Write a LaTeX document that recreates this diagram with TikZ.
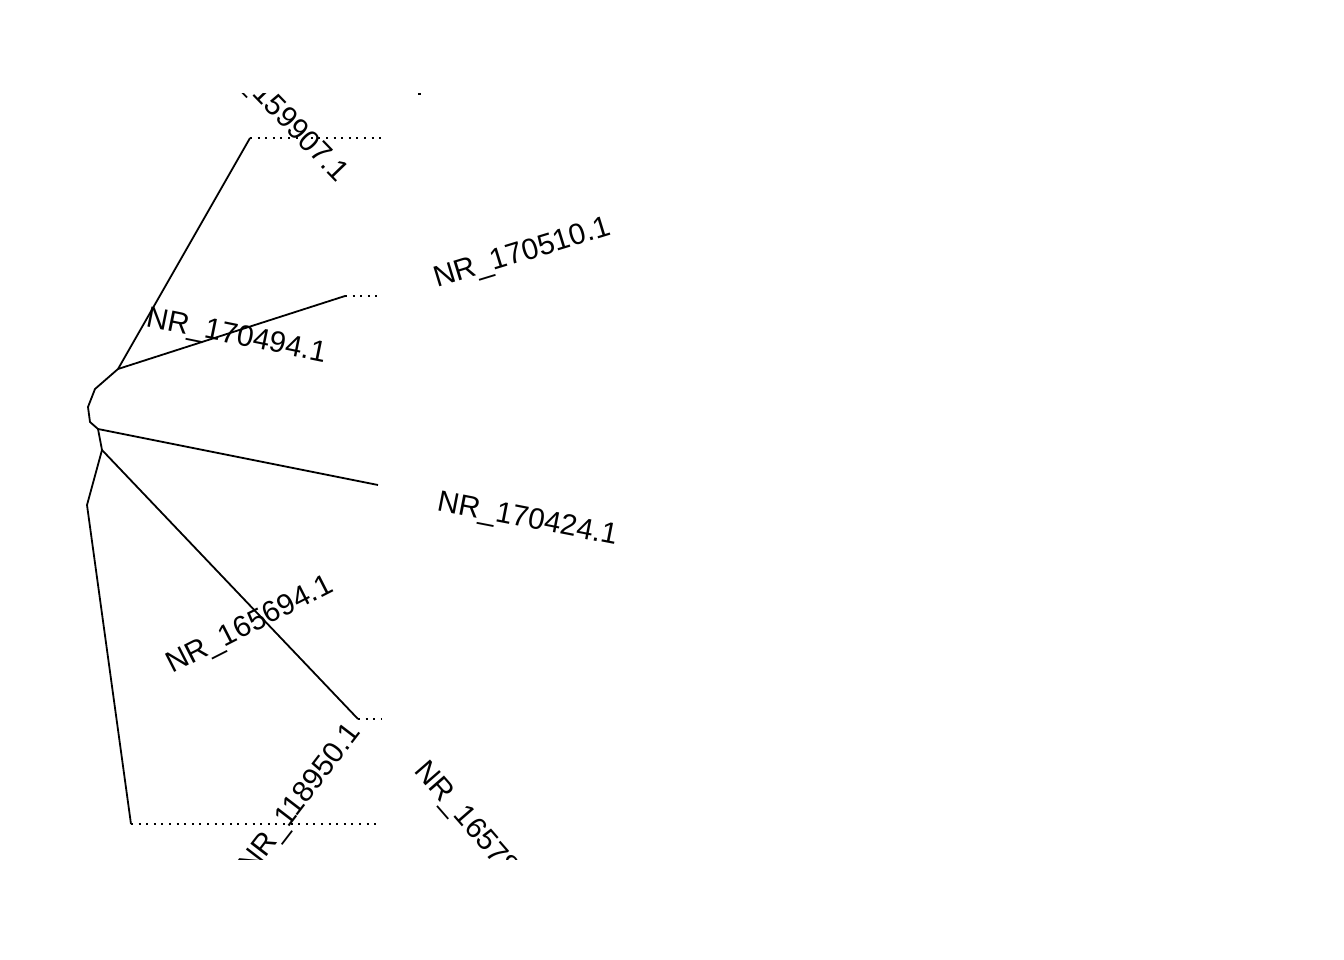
\documentclass[tikz,border=0pt]{standalone}
\usepackage{fontspec}
\setmainfont{Liberation Sans}
\begin{document}
\begin{tikzpicture}[x=1pt,y=-1pt,
  edge/.style={line width=1.8pt, line cap=butt, line join=round},
  dotline/.style={line width=2pt, dash pattern=on 2pt off 5.6pt},
  tiplabel/.style={anchor=base west, inner sep=0pt, font=\fontsize{29.6}{34}\selectfont}]
\useasboundingbox (0,0) rectangle (1344,960);
% tree coordinates
\coordinate (a) at (118,369);
\coordinate (b) at (95,389);
\coordinate (c) at (88,407);
\coordinate (d) at (90,422);
\coordinate (e) at (98,429);
\coordinate (f) at (102,450);
\coordinate (g) at (87,505);
\coordinate (h) at (131,824);
\coordinate (t1) at (250,138);
\coordinate (t1e) at (381,138);
\coordinate (t2) at (345,296);
\coordinate (t2e) at (381,296);
\coordinate (t3) at (378,485);
\coordinate (t4) at (358,719);
\coordinate (t4e) at (381,719);
\coordinate (t5e) at (381,824);
% edges
\draw[edge] (a) -- (b) -- (c) -- (d) -- (e) -- (f) -- (g) -- (h);
\draw[edge] (a) -- (t1);
\draw[edge] (a) -- (t2);
\draw[edge] (e) -- (t3);
\draw[edge] (f) -- (t4);
% dotted extensions
\draw[dotline] (t1) -- (t1e);
\draw[dotline] (t2) -- (t2e);
\draw[dotline] (t4) -- (t4e);
\draw[dotline] (h) -- (t5e);
% labels, clipped to plot region
\begin{scope}
\clip (0,93.5) rectangle (1344,859);
\node[tiplabel, rotate=17] (l1) at (437,288) {NR\_170510.1};
\node[tiplabel, rotate=-11] (l2) at (436,510) {NR\_170424.1};
\node[tiplabel, rotate=-11.5] (l3) at (145,326) {NR\_170494.1};
\node[tiplabel, rotate=27] (l4) at (172,674) {NR\_165694.1};
\node[tiplabel, rotate=52.5] (l5) at (252,876) {NR\_118950.1};
\node[tiplabel, rotate=-49] (l6) at (413.5,771) {NR\_165789.1};
\node[tiplabel, rotate=-46] (l7) at (210,52) {NR\_159907.1};
\fill (418,93.5) rectangle (421,95.5);
\end{scope}
\end{tikzpicture}
\end{document}
